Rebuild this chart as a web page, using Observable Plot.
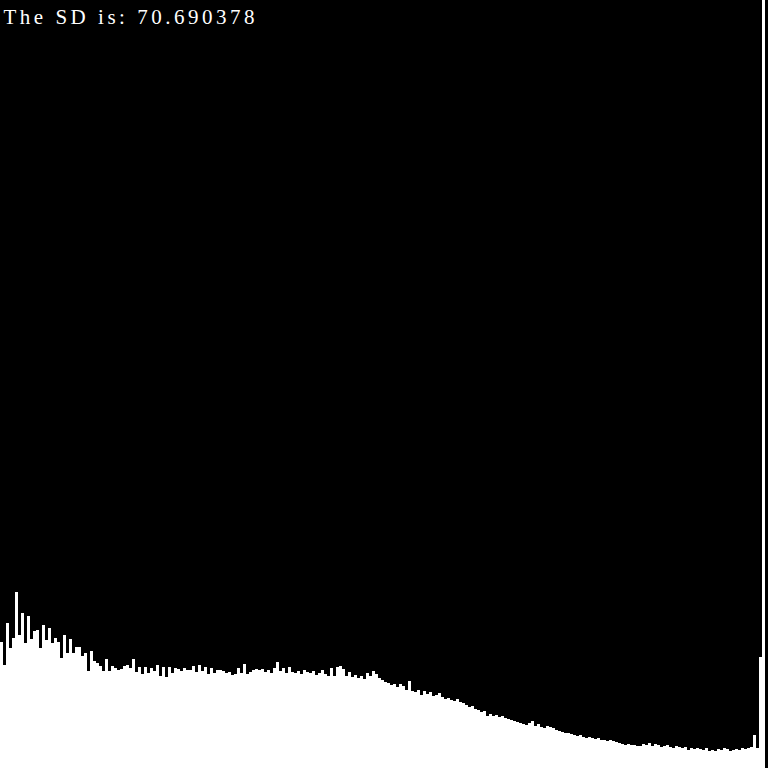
<!DOCTYPE html>
<html>
<head>
<meta charset="utf-8">
<script src="https://cdn.jsdelivr.net/npm/d3@7"></script>
<script src="https://cdn.jsdelivr.net/npm/@observablehq/plot@0.6"></script>
<style>
  html, body { margin: 0; padding: 0; background: black; }
</style>
</head>
<body>
<div id="chart"></div>
<script>
// histograma de intensidades 0..255, alturas
const niveles = d3.range(256)
const cuentas = [
  126,103,145,120,130,176,133,155,125,152,
  129,137,138,120,143,128,140,125,130,126,
  110,133,115,129,115,121,121,112,115,97,
  117,107,105,102,97,109,97,102,100,98,
  99,102,103,
  100,109,96,101,94,101,95,100,97,103,
  92,101,91,101,95,100,99,97,100,98,
  98,102,96,103,97,101,94,100,95,98,
  98,97,95,96,93,94,100,95,104,94,
  96,98,99,
  98,99,96,98,95,100,106,97,100,95,
  101,96,95,97,94,98,96,95,97,93,
  95,98,94,92,100,92,101,102,99,92,
  96,91,93,90,92,89,95,92,97,94,
  90,88,
  86,85,83,84,81,84,82,78,87,77,
  76,78,73,77,74,76,72,73,75,71,
  69,70,68,67,69,66,65,63,61,62,
  59,58,56,57,52,54,52,53,51,52,
  50,49,48,
  47,46,45,44,43,45,47,42,44,41,
  40,42,41,40,38,37,36,35,35,34,
  33,32,33,31,30,31,30,29,30,28,
  28,27,28,27,26,25,24,23,24,23,
  23,22,22,
  24,23,25,22,24,23,21,22,23,21,
  20,22,21,20,21,18,20,19,20,19,
  18,20,17,18,17,19,18,20,19,17,
  18,19,18,20,19,20,21,33,20,111,
  1200,0
]
const titulo = "The SD is: 70.690378"

const data = niveles.map((n, i) => ({nivel: n, cuenta: cuentas[i]}))

let chart = Plot.plot({
  width: 768,
  height: 768,
  margin: 0,
  style: {background: "black"},
  x: {type: "band", domain: niveles, padding: 0, axis: null},
  y: {domain: [0, 768], clamp: true, axis: null},
  marks: [
    Plot.barY(data, {x: "nivel", y: "cuenta", fill: "white"}),
    Plot.text([titulo], {
      frameAnchor: "top-left",
      text: d => d,
      dx: 3, dy: 9,
      lineAnchor: "top",
      fill: "white",
      fontSize: 21,
      fontFamily: "Liberation Serif"
    })
  ]
})

d3.select('#chart').append(() => chart)

// estirar el texto al ancho monoespaciado del original
d3.select(chart).selectAll("text")
  .attr("textLength", 251)
  .attr("lengthAdjust", "spacing")
</script>
</body>
</html>
